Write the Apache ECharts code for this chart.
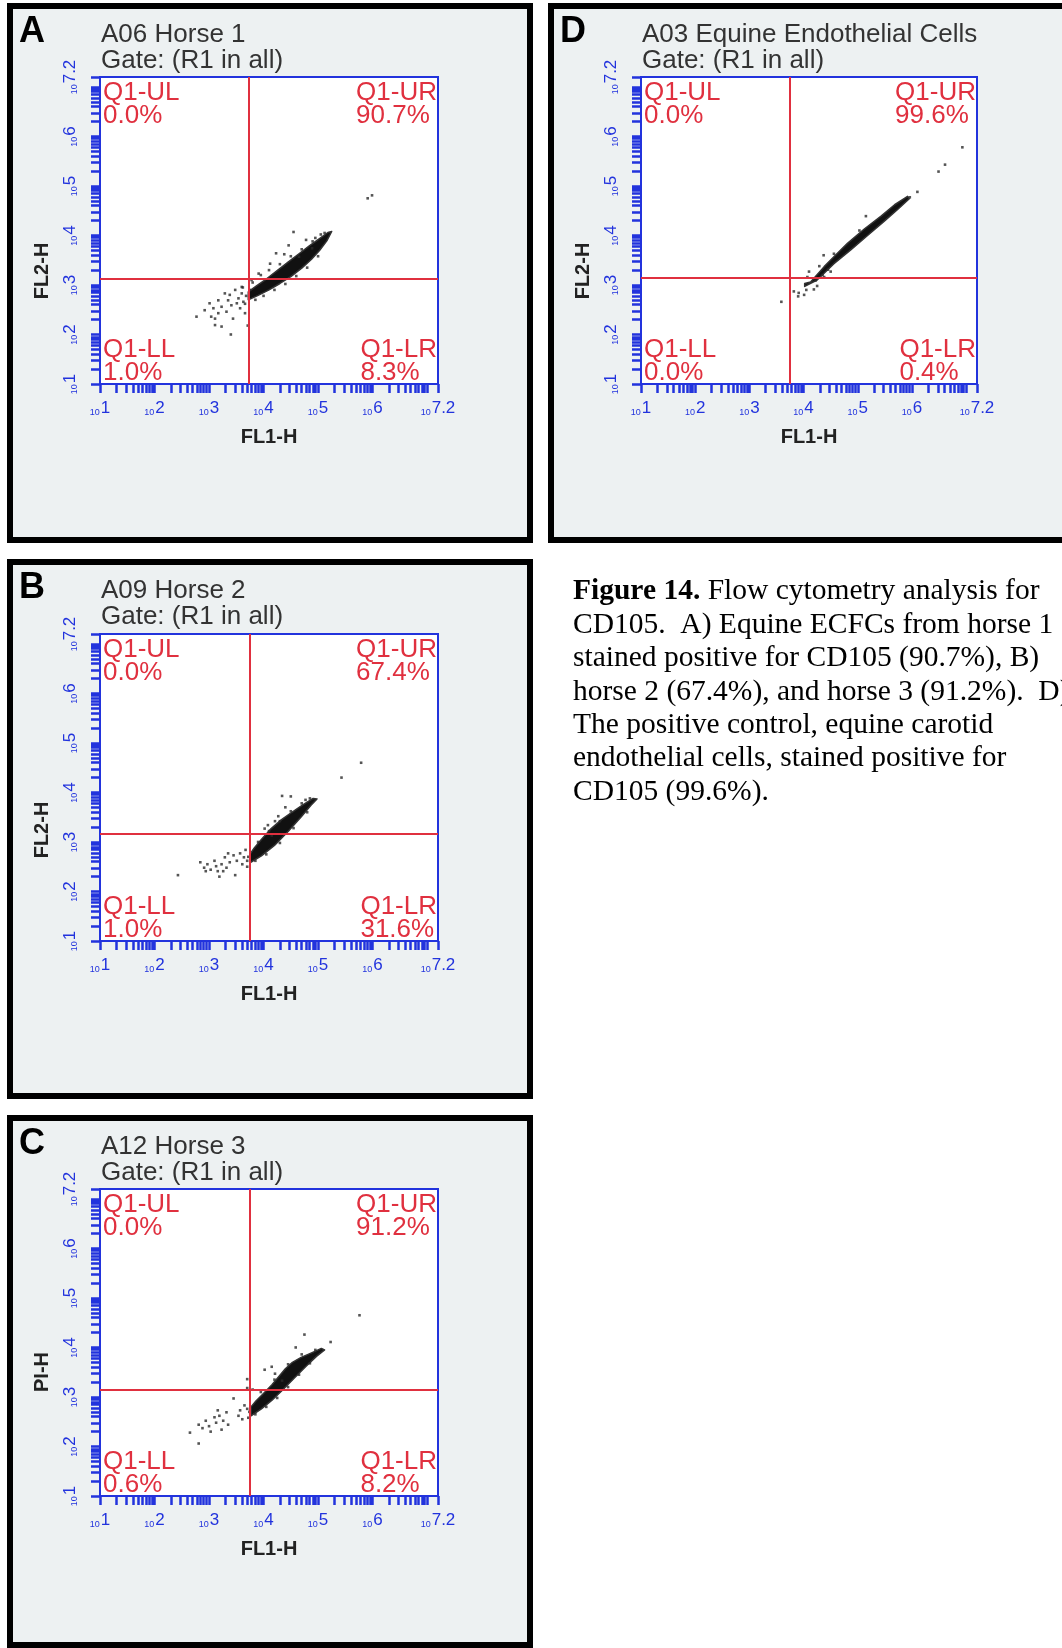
<!DOCTYPE html>
<html><head><meta charset="utf-8">
<script src="https://cdn.jsdelivr.net/npm/echarts@6/dist/echarts.min.js"></script>
<style>html,body{margin:0;padding:0;background:#fff}#c{width:1062px;height:1648px}</style>
</head><body><div id="c"></div>
<script>
// ---------- axis / tick labels ----------
const axisMin = 1, axisMax = 7.2;
const tickLabelValues = [1, 2, 3, 4, 5, 6, 7.2];
const tickLabelTexts = ['1', '2', '3', '4', '5', '6', '7.2'];
const quadNames = ['Q1-UL', 'Q1-UR', 'Q1-LL', 'Q1-LR'];
const gateText = 'Gate: (R1 in all)';

// ---------- panel texts ----------
const letters = ['A', 'B', 'C', 'D'];
const titles = ['A06 Horse 1', 'A09 Horse 2', 'A12 Horse 3', 'A03 Equine Endothelial Cells'];
const xNames = ['FL1-H', 'FL1-H', 'FL1-H', 'FL1-H'];
const yNames = ['FL2-H', 'FL2-H', 'PI-H', 'FL2-H'];

// quadrant percentages [UL, UR, LL, LR]
const pctA = ['0.0%', '90.7%', '1.0%', '8.3%'];
const pctB = ['0.0%', '67.4%', '1.0%', '31.6%'];
const pctC = ['0.0%', '91.2%', '0.6%', '8.2%'];
const pctD = ['0.0%', '99.6%', '0.0%', '0.4%'];

// quadrant gates [x, y] in log10 units
const gateA = [3.73, 3.13];
const gateB = [3.75, 3.16];
const gateC = [3.75, 3.15];
const gateD = [3.75, 3.15];

// ---------- dense population outlines (log10 FL1, log10 FL2) ----------
const coreA = [[3.72,2.70],[3.90,2.79],[4.10,2.90],[4.30,3.03],[4.50,3.17],[4.70,3.34],[4.88,3.52],[5.03,3.70],[5.16,3.89],[5.25,4.08],[5.18,4.06],[5.02,3.93],[4.84,3.79],[4.65,3.63],[4.45,3.46],[4.25,3.29],[4.05,3.12],[3.87,2.98],[3.72,2.86]];
const coreB = [[3.75,2.58],[3.96,2.72],[4.20,2.93],[4.45,3.21],[4.70,3.52],[4.87,3.74],[4.98,3.87],[4.91,3.88],[4.72,3.75],[4.52,3.60],[4.33,3.45],[4.14,3.27],[3.96,3.05],[3.83,2.88],[3.75,2.75]];
const coreC = [[3.77,2.62],[3.96,2.76],[4.15,2.93],[4.34,3.13],[4.56,3.38],[4.78,3.62],[4.97,3.82],[5.12,3.95],[5.06,3.98],[4.88,3.89],[4.69,3.80],[4.53,3.70],[4.40,3.57],[4.27,3.40],[4.15,3.24],[3.99,3.06],[3.86,2.92],[3.77,2.80]];
const coreD = [[4.02,2.97],[4.25,3.10],[4.56,3.43],[4.87,3.71],[5.18,4.00],[5.49,4.29],[5.74,4.53],[5.95,4.74],[5.92,4.79],[5.68,4.62],[5.43,4.39],[5.12,4.13],[4.81,3.84],[4.56,3.57],[4.38,3.37],[4.13,3.06],[4.02,3.03]];

// ---------- individual events ----------
const dotsA = [[2.77,2.36],[3.01,2.63],[3.08,2.53],[3.11,2.32],[3.17,2.69],[3.23,2.56],[3.29,2.83],[3.32,2.46],[3.38,2.80],[3.41,2.59],[3.44,2.32],[3.48,2.90],[3.54,2.73],[3.57,2.53],[3.60,2.83],[3.63,2.66],[3.66,2.43],[3.11,2.19],[3.23,2.16],[3.40,2.00],[3.71,2.18],[3.04,2.36],[3.35,2.69],[3.51,2.63],[3.60,2.96],[3.17,2.43],[2.92,2.49],[5.91,4.75],[5.99,4.81],[4.55,4.07],[4.23,3.64],[4.78,3.91],[4.46,3.80],[4.89,3.74],[4.65,3.57],[4.12,3.43],[3.91,3.23],[3.78,3.10],[3.75,2.90],
  [3.80,3.05],[3.95,3.20],[4.10,3.30],[4.30,3.42],[4.50,3.58],[4.70,3.72],[4.90,3.88],[5.05,4.02],[3.85,2.70],[4.00,2.78],[4.20,2.90],[4.40,3.02],[4.60,3.18],[4.80,3.35],[5.00,3.58],[3.68,2.78],[3.66,2.62],[3.62,2.95],[4.38,3.62],[4.95,3.95],[5.12,4.05]];
const dotsB = [[2.43,2.33],[2.84,2.59],[2.91,2.48],[2.97,2.55],[3.03,2.44],[3.10,2.62],[3.13,2.51],[3.16,2.41],[3.19,2.30],[3.23,2.55],[3.29,2.69],[3.32,2.48],[3.38,2.59],[3.45,2.73],[3.48,2.33],[3.51,2.62],[3.57,2.77],[3.61,2.55],[3.64,2.69],[3.67,2.84],[3.70,2.62],[2.94,2.41],[3.26,2.41],[3.35,2.77],[5.79,4.60],[5.43,4.30],[4.34,3.93],[4.50,3.92],[4.77,3.85],[4.27,3.52],[4.08,3.34],[4.21,3.42],[4.40,3.70],[4.15,3.13],[4.02,3.27],
  [3.85,2.62],[4.05,2.75],[4.30,2.98],[4.55,3.28],[4.80,3.60],[3.90,3.00],[4.10,3.22],[4.30,3.42],[4.50,3.62],[4.70,3.78],[4.85,3.88],[3.72,2.70],[3.70,2.50]];
const dotsC = [[2.65,2.28],[2.81,2.06],[2.81,2.44],[2.88,2.37],[2.94,2.52],[3.00,2.41],[3.03,2.30],[3.10,2.59],[3.13,2.48],[3.19,2.62],[3.23,2.34],[3.26,2.52],[3.32,2.69],[3.35,2.44],[3.16,2.73],[3.45,2.97],[3.57,2.73],[3.61,2.55],[3.70,3.36],[3.70,2.76],[3.65,2.83],[3.54,2.62],[5.76,4.65],[4.75,4.26],[5.23,4.11],[4.02,3.55],[4.21,3.47],[4.34,3.33],[4.15,3.61],[4.59,4.00],[3.70,3.18],[3.80,3.15],
  [3.85,2.65],[4.05,2.80],[4.25,2.98],[4.45,3.20],[4.65,3.45],[4.85,3.68],[3.95,3.10],[4.20,3.35],[4.45,3.66],[4.70,3.86],[4.95,3.95],[3.74,2.70],[3.72,2.58]];
const dotsD = [[3.59,2.66],[3.82,2.87],[3.90,2.77],[3.91,2.84],[4.01,2.80],[4.05,2.90],[4.07,3.16],[4.10,3.27],[4.19,2.91],[4.22,3.09],[4.25,2.98],[4.35,3.20],[4.38,3.16],[4.29,3.38],[4.37,3.60],[4.56,3.63],[4.50,3.27],[4.45,3.31],[5.15,4.39],[5.03,4.10],[6.10,4.88],[5.96,4.77],[6.49,5.29],[6.61,5.43],[6.93,5.78]];

// ---------- caption ----------
const captionLines = [
  '{b|Figure 14.} Flow cytometry analysis for',
  'CD105.  A) Equine ECFCs from horse 1',
  'stained positive for CD105 (90.7%), B)',
  'horse 2 (67.4%), and horse 3 (91.2%).  D)',
  'The positive control, equine carotid',
  'endothelial cells, stained positive for',
  'CD105 (99.6%).'
];

// ---------- layout & style ----------
const BLUE = '#2233dd', RED = '#e0303f', BG = '#edf1f2';
const FONT = '"Liberation Sans", Arial, sans-serif';
const SERIF = '"Liberation Serif", "Times New Roman", serif';
const layout = [
  { frame: { x: 7, y: 3, w: 526, h: 540 },    plot: { left: 100, top: 77, width: 338, height: 307 },   yNameDy: 268 },
  { frame: { x: 7, y: 559, w: 526, h: 540 },  plot: { left: 100, top: 634, width: 338, height: 307 },  yNameDy: 271 },
  { frame: { x: 7, y: 1115, w: 526, h: 533 }, plot: { left: 100, top: 1189, width: 338, height: 307 }, yNameDy: 257 },
  { frame: { x: 548, y: 3, w: 540, h: 540 },  plot: { left: 641, top: 77, width: 336, height: 307 },   yNameDy: 268 }
];
const panelData = [
  { pct: pctA, gate: gateA, core: coreA, dots: dotsA },
  { pct: pctB, gate: gateB, core: coreB, dots: dotsB },
  { pct: pctC, gate: gateC, core: coreC, dots: dotsC },
  { pct: pctD, gate: gateD, core: coreD, dots: dotsD }
];

// log-decade tick marks (axis decoration)
const minorTicks = [];
for (let d = 1; d <= 7; d++) {
  for (let k = 1; k <= 9; k++) {
    const v = d + Math.log10(k);
    if (v <= axisMax + 1e-9) minorTicks.push(+v.toFixed(4));
  }
}
minorTicks.push(axisMax);

const measureCtx = document.createElement('canvas').getContext('2d');
function textWidth(t, font) { measureCtx.font = font; return measureCtx.measureText(t).width; }

const labelRich = {
  t: { fontSize: 9, color: BLUE, fontFamily: FONT, verticalAlign: 'bottom', padding: [0, 1, 0, 0] },
  e: { fontSize: 17, color: BLUE, fontFamily: FONT, verticalAlign: 'bottom' }
};
function tickFmt(v) {
  let i = tickLabelValues.findIndex(x => Math.abs(x - v) < 1e-6);
  const s = i >= 0 ? tickLabelTexts[i] : String(v);
  return '{t|10}{e|' + s + '}';
}

const grids = [], xAxes = [], yAxes = [], series = [], graphics = [];
const QFONT = '26px ' + FONT;

layout.forEach((L, i) => {
  const P = L.plot, F = L.frame, D = panelData[i];
  grids.push({ left: P.left, top: P.top, width: P.width, height: P.height, show: true,
    backgroundColor: '#ffffff', borderColor: BLUE, borderWidth: 2, containLabel: false });
  xAxes.push({ gridIndex: i, type: 'value', min: axisMin, max: axisMax,
    axisLine: { show: true, onZero: false, lineStyle: { color: BLUE, width: 2 } },
    axisTick: { show: true, inside: false, length: 9, customValues: minorTicks, lineStyle: { color: BLUE, width: 2.5 } },
    axisLabel: { show: true, customValues: tickLabelValues, formatter: tickFmt, rich: labelRich, margin: 16 },
    splitLine: { show: false },
    name: xNames[i], nameLocation: 'middle', nameGap: 43,
    nameTextStyle: { fontWeight: 'bold', fontSize: 20, color: '#222', fontFamily: FONT }
  });
  yAxes.push({ gridIndex: i, type: 'value', min: axisMin, max: axisMax,
    axisLine: { show: true, onZero: false, lineStyle: { color: BLUE, width: 2 } },
    axisTick: { show: true, inside: false, length: 9, customValues: minorTicks, lineStyle: { color: BLUE, width: 2.5 } },
    axisLabel: { show: true, customValues: tickLabelValues, formatter: tickFmt, rich: labelRich, margin: 21, rotate: 90 },
    splitLine: { show: false }
  });
  const core = D.core;
  series.push({ type: 'custom', xAxisIndex: i, yAxisIndex: i, z: 2, clip: true, silent: true,
    data: core,
    renderItem: function (params, api) {
      if (params.dataIndex !== 0) return null;
      return { type: 'polygon', shape: { points: core.map(p => api.coord(p)) },
        style: { fill: '#111', stroke: '#333', lineWidth: 1.5, lineJoin: 'round' } };
    }
  });
  series.push({ type: 'scatter', xAxisIndex: i, yAxisIndex: i, z: 3, silent: true,
    data: D.dots, symbol: 'rect', symbolSize: 2.6, itemStyle: { color: '#2a2a2a' },
    markLine: { silent: true, symbol: 'none', label: { show: false }, animation: false,
      lineStyle: { color: RED, width: 2, type: 'solid' }, emphasis: { disabled: true },
      data: [{ xAxis: D.gate[0] }, { yAxis: D.gate[1] }] }
  });

  // frame
  graphics.push({ type: 'rect', z: -10, silent: true,
    shape: { x: F.x + 3, y: F.y + 3, width: F.w - 6, height: F.h - 6 },
    style: { fill: BG, stroke: '#000', lineWidth: 6 } });
  // letter
  graphics.push({ type: 'text', z: 10, x: F.x + 12, y: F.y + 29,
    style: { text: letters[i], font: 'bold 36px ' + FONT, fill: '#000', align: 'left', verticalAlign: 'middle' } });
  // titles
  graphics.push({ type: 'text', z: 10, x: P.left + 1, y: F.y + 32,
    style: { text: titles[i], font: '26px ' + FONT, fill: '#333', align: 'left', verticalAlign: 'middle' } });
  graphics.push({ type: 'text', z: 10, x: P.left + 1, y: F.y + 58,
    style: { text: gateText, font: '26px ' + FONT, fill: '#333', align: 'left', verticalAlign: 'middle' } });
  // y axis name
  graphics.push({ type: 'text', z: 10, x: F.x + 35, y: F.y + L.yNameDy, rotation: Math.PI / 2,
    style: { text: yNames[i], font: 'bold 20px ' + FONT, fill: '#222', align: 'center', verticalAlign: 'middle' } });
  // quadrant labels
  const right = P.left + P.width - 1;
  const topY1 = P.top + 15.5, topY2 = P.top + 39;
  const botY1 = P.top + P.height - 34, botY2 = P.top + P.height - 11;
  const qs = { fill: RED, font: QFONT, verticalAlign: 'middle', align: 'left' };
  graphics.push({ type: 'text', z: 20, x: P.left + 3, y: topY1, style: Object.assign({ text: quadNames[0] }, qs) });
  graphics.push({ type: 'text', z: 20, x: P.left + 3, y: topY2, style: Object.assign({ text: D.pct[0] }, qs) });
  const urLeft = right - textWidth(quadNames[1], QFONT);
  graphics.push({ type: 'text', z: 20, x: urLeft, y: topY1, style: Object.assign({ text: quadNames[1] }, qs) });
  graphics.push({ type: 'text', z: 20, x: urLeft, y: topY2, style: Object.assign({ text: D.pct[1] }, qs) });
  graphics.push({ type: 'text', z: 20, x: P.left + 3, y: botY1, style: Object.assign({ text: quadNames[2] }, qs) });
  graphics.push({ type: 'text', z: 20, x: P.left + 3, y: botY2, style: Object.assign({ text: D.pct[2] }, qs) });
  const lrLeft = right - textWidth(quadNames[3], QFONT);
  graphics.push({ type: 'text', z: 20, x: lrLeft, y: botY1, style: Object.assign({ text: quadNames[3] }, qs) });
  graphics.push({ type: 'text', z: 20, x: lrLeft, y: botY2, style: Object.assign({ text: D.pct[3] }, qs) });
});

// caption
graphics.push({ type: 'text', z: 10, x: 573, y: 575,
  style: { text: captionLines.join('\n'), font: '29.5px ' + SERIF, fill: '#000', lineHeight: 33.4,
    align: 'left', verticalAlign: 'top',
    rich: { b: { fontWeight: 'bold', fontSize: 29.5, fontFamily: SERIF, lineHeight: 33.4, fill: '#000' } } } });

const chart = echarts.init(document.getElementById('c'), null, { renderer: 'canvas' });
chart.setOption({
  animation: false,
  backgroundColor: '#ffffff',
  grid: grids, xAxis: xAxes, yAxis: yAxes, series: series,
  graphic: { elements: graphics }
});
</script></body></html>
